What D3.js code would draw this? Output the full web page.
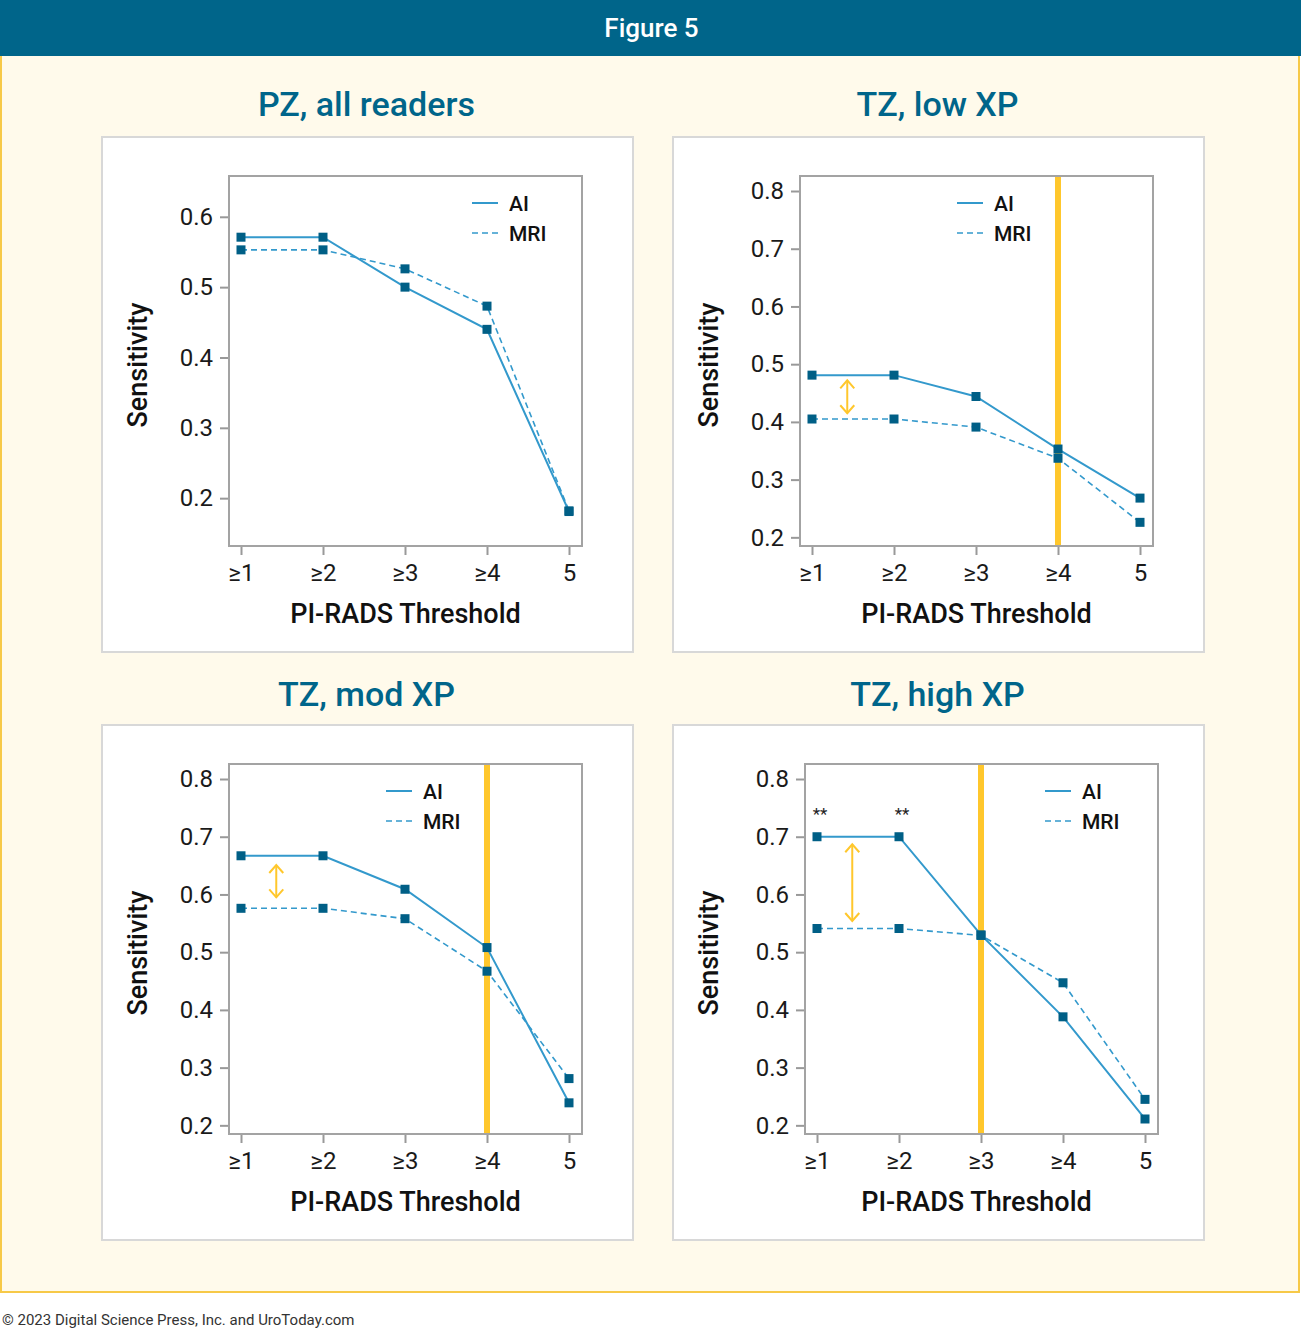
<!DOCTYPE html>
<html>
<head>
<meta charset="utf-8">
<script src="https://cdn.jsdelivr.net/npm/d3@7"></script>
<style>
  body { margin: 0; background: #fff; }
  svg { display: block; font-family: Roboto, "Noto Sans", sans-serif; }
</style>
</head>
<body>
<script>
// data
const thresholds = ['≥1', '≥2', '≥3', '≥4', '5'];
const panelTitles = ['PZ, all readers', 'TZ, low XP', 'TZ, mod XP', 'TZ, high XP'];

const aiPZ      = [0.571, 0.571, 0.500, 0.440, 0.181];
const mriPZ     = [0.553, 0.553, 0.526, 0.473, 0.182];
const aiTZLow   = [0.481, 0.481, 0.444, 0.353, 0.268];
const mriTZLow  = [0.405, 0.405, 0.391, 0.337, 0.226];
const aiTZMod   = [0.667, 0.667, 0.609, 0.508, 0.239];
const mriTZMod  = [0.576, 0.576, 0.558, 0.467, 0.281];
const aiTZHigh  = [0.700, 0.700, 0.530, 0.388, 0.211];
const mriTZHigh = [0.541, 0.541, 0.529, 0.447, 0.245];

const yTicksPZ = [0.2, 0.3, 0.4, 0.5, 0.6];
const yTicksTZ = [0.2, 0.3, 0.4, 0.5, 0.6, 0.7, 0.8];
const yDomainPZ = [0.132, 0.658];
const yDomainTZ = [0.185, 0.826];

const highlighted = [null, '≥4', '≥4', '≥3'];
const gapArrows = [null, [0.472, 0.415], [0.651, 0.595], [0.687, 0.554]];
const starred = [[], [], [], ['≥1', '≥2']];

const panels = [
  { title: panelTitles[0], ai: aiPZ,     mri: mriPZ,     ticks: yTicksPZ, domain: yDomainPZ },
  { title: panelTitles[1], ai: aiTZLow,  mri: mriTZLow,  ticks: yTicksTZ, domain: yDomainTZ },
  { title: panelTitles[2], ai: aiTZMod,  mri: mriTZMod,  ticks: yTicksTZ, domain: yDomainTZ },
  { title: panelTitles[3], ai: aiTZHigh, mri: mriTZHigh, ticks: yTicksTZ, domain: yDomainTZ }
];

// layout
const W = 1301, H = 1330;
const boxes = [
  { x: 102, y: 137, dx: 0, legend: 110, ty: 21 },
  { x: 673, y: 137, dx: 0, legend: 196, ty: 21 },
  { x: 102, y: 725, dx: 0, legend: 196, ty: 19 },
  { x: 673, y: 725, dx: 5, legend: 113, ty: 19 }
];
const boxW = 531, boxH = 515;
const fw = 353, fh = 370;

const teal = '#00658a';
const lineBlue = '#3399cc';
const markerBlue = '#005f86';
const yellow = '#ffc72c';

const svg = d3.select('body').append('svg')
  .attr('width', W)
  .attr('height', H);

svg.append('rect')
  .attr('x', 1).attr('y', 50)
  .attr('width', W - 3).attr('height', 1242)
  .attr('fill', '#fffaeb')
  .attr('stroke', '#f7c948')
  .attr('stroke-width', 2);

svg.append('rect')
  .attr('x', 0).attr('y', 0)
  .attr('width', W).attr('height', 56)
  .attr('fill', teal);

svg.append('text')
  .attr('x', W / 2 + 1).attr('y', 37)
  .attr('text-anchor', 'middle')
  .attr('fill', '#fff')
  .attr('font-size', 26)
  .attr('font-weight', 500)
  .text('Figure 5');

svg.append('text')
  .attr('x', 2).attr('y', 1325)
  .attr('fill', '#333')
  .attr('font-size', 15)
  .text('© 2023 Digital Science Press, Inc. and UroToday.com');

panels.forEach((p, i) => {
  const b = boxes[i];

  svg.append('text')
    .attr('x', b.x + boxW / 2 - 1).attr('y', b.y - b.ty)
    .attr('text-anchor', 'middle')
    .attr('fill', teal)
    .attr('font-size', 34)
    .attr('font-weight', 500)
    .text(p.title);

  svg.append('rect')
    .attr('x', b.x).attr('y', b.y)
    .attr('width', boxW).attr('height', boxH)
    .attr('fill', '#fff')
    .attr('stroke', '#d8d8d8')
    .attr('stroke-width', 2);

  // axis titles stay put, only the plot frame shifts by dx
  const ox = b.x + 127, fy = b.y + 39;
  svg.append('text')
    .attr('transform', `translate(${ox - 82}, ${fy + fh / 2 + 4}) rotate(-90)`)
    .attr('text-anchor', 'middle')
    .attr('fill', '#111')
    .attr('font-size', 27)
    .attr('font-weight', 500)
    .text('Sensitivity');

  svg.append('text')
    .attr('x', ox + fw / 2).attr('y', fy + fh + 77)
    .attr('text-anchor', 'middle')
    .attr('fill', '#111')
    .attr('font-size', 27)
    .attr('font-weight', 500)
    .text('PI-RADS Threshold');

  const fx = ox + b.dx;
  const g = svg.append('g')
    .attr('transform', `translate(${fx}, ${fy})`);

  const x = d3.scalePoint()
    .domain(thresholds)
    .range([12, fw - 13]);
  const y = d3.scaleLinear()
    .domain(p.domain)
    .range([fh, 0]);

  const yAxis = g.append('g')
    .call(d3.axisLeft(y).tickValues(p.ticks).tickFormat(d3.format('.1f')).tickSize(9).tickPadding(7));
  const xAxis = g.append('g')
    .attr('transform', `translate(0, ${fh})`)
    .call(d3.axisBottom(x).tickSize(9).tickPadding(9));

  [yAxis, xAxis].forEach(a => {
    a.select('.domain').remove();
    a.selectAll('line').attr('stroke', '#999').attr('stroke-width', 2);
    a.selectAll('text')
      .attr('fill', '#1a1a1a')
      .attr('font-size', 24)
      .attr('font-family', 'Roboto, "Noto Sans", sans-serif');
  });

  g.append('rect')
    .attr('width', fw).attr('height', fh)
    .attr('fill', 'none')
    .attr('stroke', '#a3a3a3')
    .attr('stroke-width', 2);

  if (highlighted[i]) {
    g.append('rect')
      .attr('x', x(highlighted[i]) - 3)
      .attr('y', 1)
      .attr('width', 6)
      .attr('height', fh - 2)
      .attr('fill', yellow);
  }

  const line = d3.line()
    .x((d, k) => x(thresholds[k]))
    .y(d => y(d));

  g.append('path')
    .datum(p.mri)
    .attr('d', line)
    .attr('fill', 'none')
    .attr('stroke', lineBlue)
    .attr('stroke-width', 1.6)
    .attr('stroke-dasharray', '6,4');

  g.append('path')
    .datum(p.ai)
    .attr('d', line)
    .attr('fill', 'none')
    .attr('stroke', lineBlue)
    .attr('stroke-width', 2);

  [p.ai, p.mri].forEach(vals => {
    g.selectAll(null)
      .data(vals)
      .enter().append('rect')
      .attr('x', (d, k) => x(thresholds[k]) - 4.5)
      .attr('y', d => y(d) - 4.5)
      .attr('width', 9).attr('height', 9)
      .attr('fill', markerBlue);
  });

  if (gapArrows[i]) {
    const ax = x(thresholds[0]) + 0.43 * x.step();
    const y1 = y(gapArrows[i][0]), y2 = y(gapArrows[i][1]);
    const ag = g.append('g')
      .attr('fill', 'none')
      .attr('stroke', yellow)
      .attr('stroke-width', 2);
    ag.append('line').attr('x1', ax).attr('x2', ax).attr('y1', y1).attr('y2', y2);
    ag.append('path').attr('d', `M${ax - 7},${y1 + 8}L${ax},${y1}L${ax + 7},${y1 + 8}`);
    ag.append('path').attr('d', `M${ax - 7},${y2 - 8}L${ax},${y2}L${ax + 7},${y2 - 8}`);
  }

  starred[i].forEach(t => {
    const k = thresholds.indexOf(t);
    g.append('text')
      .attr('x', x(t) + 3).attr('y', y(p.ai[k]) - 17)
      .attr('text-anchor', 'middle')
      .attr('fill', '#222')
      .attr('font-size', 17)
      .text('**');
  });

  const lg = g.append('g')
    .attr('transform', `translate(${fw - b.legend}, 0)`);
  [['AI', null, 27], ['MRI', '6,4', 57]].forEach(([name, dash, ly]) => {
    lg.append('line')
      .attr('x1', 0).attr('x2', 26)
      .attr('y1', ly).attr('y2', ly)
      .attr('stroke', lineBlue)
      .attr('stroke-width', dash ? 1.6 : 2)
      .attr('stroke-dasharray', dash);
    lg.append('text')
      .attr('x', 37).attr('y', ly + 8)
      .attr('fill', '#111')
      .attr('font-size', 21)
      .attr('font-weight', 500)
      .text(name);
  });
});
</script>
</body>
</html>
